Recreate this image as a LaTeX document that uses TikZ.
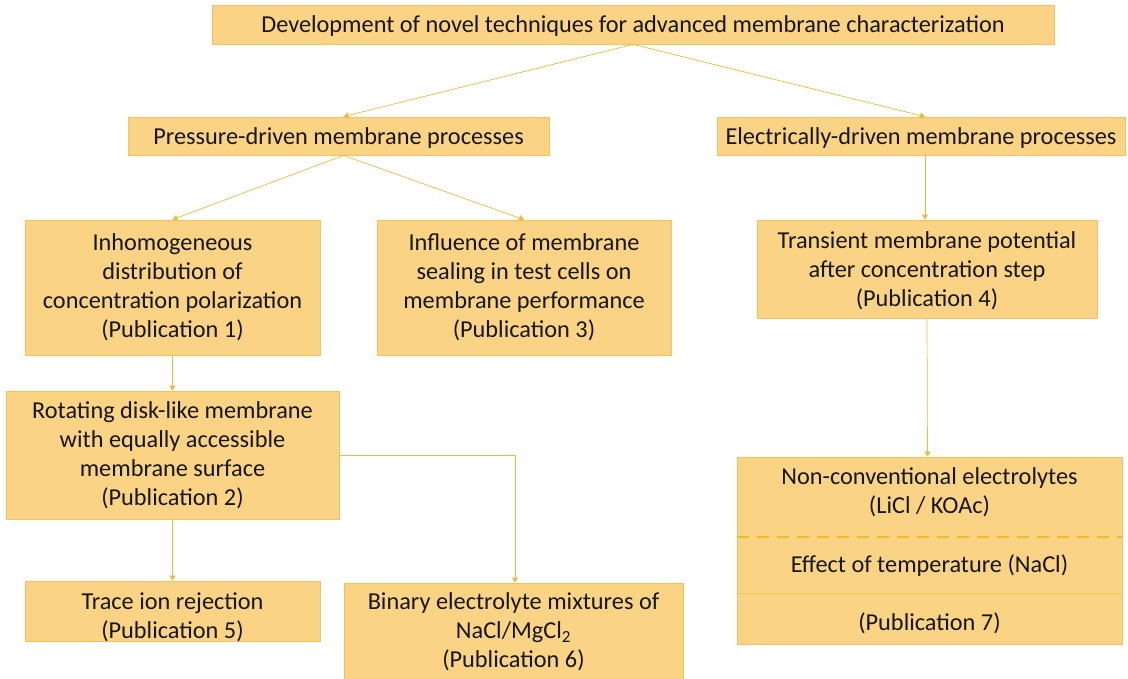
\documentclass[tikz,border=0pt]{standalone}
\usepackage{fontspec}
\setmainfont{Carlito}
\usetikzlibrary{arrows.meta}
\definecolor{boxfill}{HTML}{FAD384}
\definecolor{boxline}{HTML}{F2C25E}
\definecolor{arrowc}{HTML}{F0B93C}
\definecolor{dashc}{HTML}{F2BB2C}
\definecolor{txt}{HTML}{161616}
\begin{document}
\begin{tikzpicture}[x=1pt,y=-1pt,
  box/.style={draw=boxline, line width=0.8pt, fill=boxfill, inner sep=0pt, align=center,
    text=txt, font=\fontsize{24.3}{29}\selectfont},
  conn/.style={draw=arrowc, line width=0.7pt, -{Triangle[width=6pt,length=5pt]}},
  lbl/.style={inner sep=0pt, align=center, text=txt, font=\fontsize{24.3}{29}\selectfont}]
\useasboundingbox (0,0) rectangle (1128,679);
\node[box, minimum width=842, minimum height=39] (top) at (633,24.5) {};
\node[lbl] (toptxt) at (633,26)
  {Development of novel techniques for advanced membrane characterization};
\node[box, minimum width=421, minimum height=38] (pres) at (338.5,136) {};
\node[lbl] (prestxt) at (338.5,138) {Pressure-driven membrane processes};
\node[box, minimum width=408, minimum height=38] (elec) at (921,136) {};
\node[lbl] (electxt) at (921,138) {Electrically-driven membrane processes};
\node[box, minimum width=295, minimum height=135] (inh) at (172.5,287.5)
  {Inhomogeneous\\distribution of\\concentration polarization\\(Publication 1)};
\node[box, minimum width=294, minimum height=135] (infl) at (524,287.5)
  {Influence of membrane\\sealing in test cells on\\membrane performance\\(Publication 3)};
\node[box, minimum width=340, minimum height=98] (trans) at (927,269) {};
\node[lbl] (transtxt) at (927,271)
  {Transient membrane potential\\after concentration step\\(Publication 4)};
\node[box, minimum width=333, minimum height=128] (rot) at (172.5,455)
  {Rotating disk-like membrane\\with equally accessible\\membrane surface\\(Publication 2)};
\node[box, minimum width=295, minimum height=60] (trace) at (172.5,611) {};
\node[lbl] (tracetxt) at (172.5,617) {Trace ion rejection\\(Publication 5)};
\node[box, minimum width=339, minimum height=98] (bin) at (513.5,632)
  {Binary electrolyte mixtures of\\NaCl/MgCl\textsubscript{2}\\(Publication 6)};
\node[box, minimum width=385, minimum height=187] (pub) at (929.5,550.5) {};
\draw[dashc, line width=2.6pt, dash pattern=on 12pt off 8pt] (pub.west |- 0,537) -- (pub.east |- 0,537);
\draw[boxline, line width=0.8pt] (pub.west |- 0,593) -- (pub.east |- 0,593);
\node[lbl] (p7a) at (929.5,492) {Non-conventional electrolytes\\(LiCl / KOAc)};
\node[lbl] (p7b) at (929.5,566) {Effect of temperature (NaCl)};
\node[lbl] (p7c) at (929.5,623) {(Publication 7)};
\draw[conn] (top.south) -- ([xshift=5pt]pres.north);
\draw[conn] (top.south) -- ([xshift=4pt]elec.north);
\draw[conn] ([xshift=5pt]pres.south) -- (inh.north);
\draw[conn] ([xshift=5pt]pres.south) -- (infl.north);
\draw[conn] ([xshift=4pt]elec.south) -- ([xshift=-2pt]trans.north);
\draw[conn] (inh.south) -- (rot.north);
\draw[conn] (rot.south) -- (trace.north);
\draw[conn] (rot.east) -| ([xshift=1.5pt]bin.north);
\draw[conn] (trans.south) -- ([xshift=-2pt]pub.north);
\end{tikzpicture}
\end{document}
